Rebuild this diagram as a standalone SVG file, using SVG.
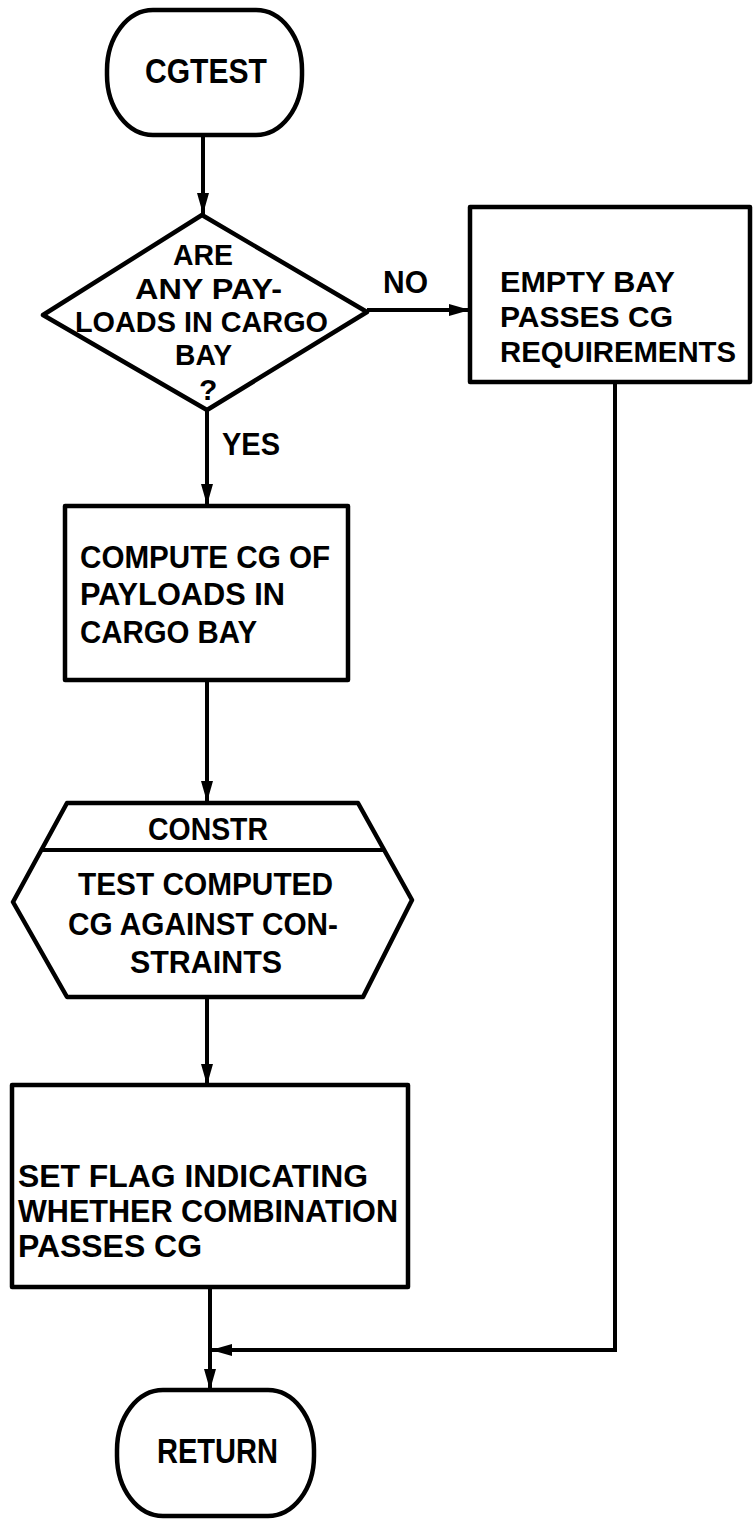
<svg xmlns="http://www.w3.org/2000/svg" width="753" height="1521" viewBox="0 0 753 1521">
  <style>
    .shape { fill: #fff; stroke: #000; stroke-width: 4.5; stroke-linejoin: round; }
    .wire { fill: none; stroke: #000; stroke-width: 4; }
    .lbl { font-family: "Liberation Sans", Arial, sans-serif; font-weight: bold; font-size: 32px; fill: #000; }
    .dia { font-size: 30px; }
    .side { font-size: 29.5px; }
    .big { font-size: 35px; }
  </style>
  <defs>
    <marker id="arrow" markerUnits="userSpaceOnUse" markerWidth="22" markerHeight="14" refX="21" refY="7" orient="auto">
      <path d="M0,1 L21,7 L0,13 Z" fill="#000"/>
    </marker>
  </defs>
  <rect width="753" height="1521" fill="#fff"/>

  <!-- flow lines -->
  <g id="connectors">
    <line class="wire" x1="203" y1="135" x2="203" y2="214" marker-end="url(#arrow)"/>
    <line class="wire" x1="367" y1="310" x2="470" y2="310" marker-end="url(#arrow)"/>
    <line class="wire" x1="207" y1="410" x2="207" y2="505" marker-end="url(#arrow)"/>
    <line class="wire" x1="207" y1="680" x2="207" y2="802" marker-end="url(#arrow)"/>
    <line class="wire" x1="207" y1="997" x2="207" y2="1085" marker-end="url(#arrow)"/>
    <line class="wire" x1="210" y1="1287" x2="210" y2="1390" marker-end="url(#arrow)"/>
    <polyline class="wire" points="615,382 615,1350 211,1350" marker-end="url(#arrow)"/>
    <text class="lbl" x="383" y="293" textLength="45" lengthAdjust="spacingAndGlyphs">NO</text>
    <text class="lbl" x="222" y="455" textLength="58" lengthAdjust="spacingAndGlyphs">YES</text>
  </g>

  <!-- entry terminal -->
  <g id="cgtest">
    <rect class="shape" x="107" y="10" width="195" height="125" rx="46" ry="60"/>
    <text class="lbl big" x="145" y="83" textLength="122" lengthAdjust="spacingAndGlyphs">CGTEST</text>
  </g>

  <!-- decision -->
  <g id="any-payloads">
    <polygon class="shape" points="202,215 367,312 207,410 43,315"/>
    <text class="lbl dia" x="173" y="265" textLength="60" lengthAdjust="spacingAndGlyphs">ARE</text>
    <text class="lbl dia" x="135" y="299" textLength="147" lengthAdjust="spacingAndGlyphs">ANY PAY-</text>
    <text class="lbl dia" x="75" y="332" textLength="253" lengthAdjust="spacingAndGlyphs">LOADS IN CARGO</text>
    <text class="lbl dia" x="175" y="365" textLength="57" lengthAdjust="spacingAndGlyphs">BAY</text>
    <text class="lbl dia" x="199" y="400">?</text>
  </g>

  <!-- empty bay process -->
  <g id="empty-bay">
    <rect class="shape" x="470" y="207" width="280" height="175"/>
    <text class="lbl side" x="500" y="292" textLength="175" lengthAdjust="spacingAndGlyphs">EMPTY BAY</text>
    <text class="lbl side" x="500" y="327" textLength="173" lengthAdjust="spacingAndGlyphs">PASSES CG</text>
    <text class="lbl side" x="500" y="362" textLength="236" lengthAdjust="spacingAndGlyphs">REQUIREMENTS</text>
  </g>

  <!-- compute process -->
  <g id="compute-cg">
    <rect class="shape" x="65" y="506" width="283" height="174"/>
    <text class="lbl" x="80" y="568" textLength="250" lengthAdjust="spacingAndGlyphs">COMPUTE CG OF</text>
    <text class="lbl" x="80" y="605" textLength="205" lengthAdjust="spacingAndGlyphs">PAYLOADS IN</text>
    <text class="lbl" x="80" y="643" textLength="177" lengthAdjust="spacingAndGlyphs">CARGO BAY</text>
  </g>

  <!-- predefined routine CONSTR -->
  <g id="constr">
    <polygon class="shape" points="67,803 358,803 412,900 363,997 67,997 13,902"/>
    <line class="wire" x1="41" y1="850" x2="384" y2="850"/>
    <text class="lbl" x="148" y="840" textLength="120" lengthAdjust="spacingAndGlyphs">CONSTR</text>
    <text class="lbl" x="78" y="895" textLength="255" lengthAdjust="spacingAndGlyphs">TEST COMPUTED</text>
    <text class="lbl" x="68" y="935" textLength="270" lengthAdjust="spacingAndGlyphs">CG AGAINST CON-</text>
    <text class="lbl" x="130" y="973" textLength="152" lengthAdjust="spacingAndGlyphs">STRAINTS</text>
  </g>

  <!-- set flag process -->
  <g id="set-flag">
    <rect class="shape" x="12" y="1085" width="396" height="202"/>
    <text class="lbl" x="18" y="1187" textLength="350" lengthAdjust="spacingAndGlyphs">SET FLAG INDICATING</text>
    <text class="lbl" x="18" y="1222" textLength="380" lengthAdjust="spacingAndGlyphs">WHETHER COMBINATION</text>
    <text class="lbl" x="18" y="1257" textLength="184" lengthAdjust="spacingAndGlyphs">PASSES CG</text>
  </g>

  <!-- exit terminal -->
  <g id="return">
    <rect class="shape" x="117" y="1390" width="197" height="126" rx="46" ry="60"/>
    <text class="lbl big" x="157" y="1463" textLength="121" lengthAdjust="spacingAndGlyphs">RETURN</text>
  </g>
</svg>
